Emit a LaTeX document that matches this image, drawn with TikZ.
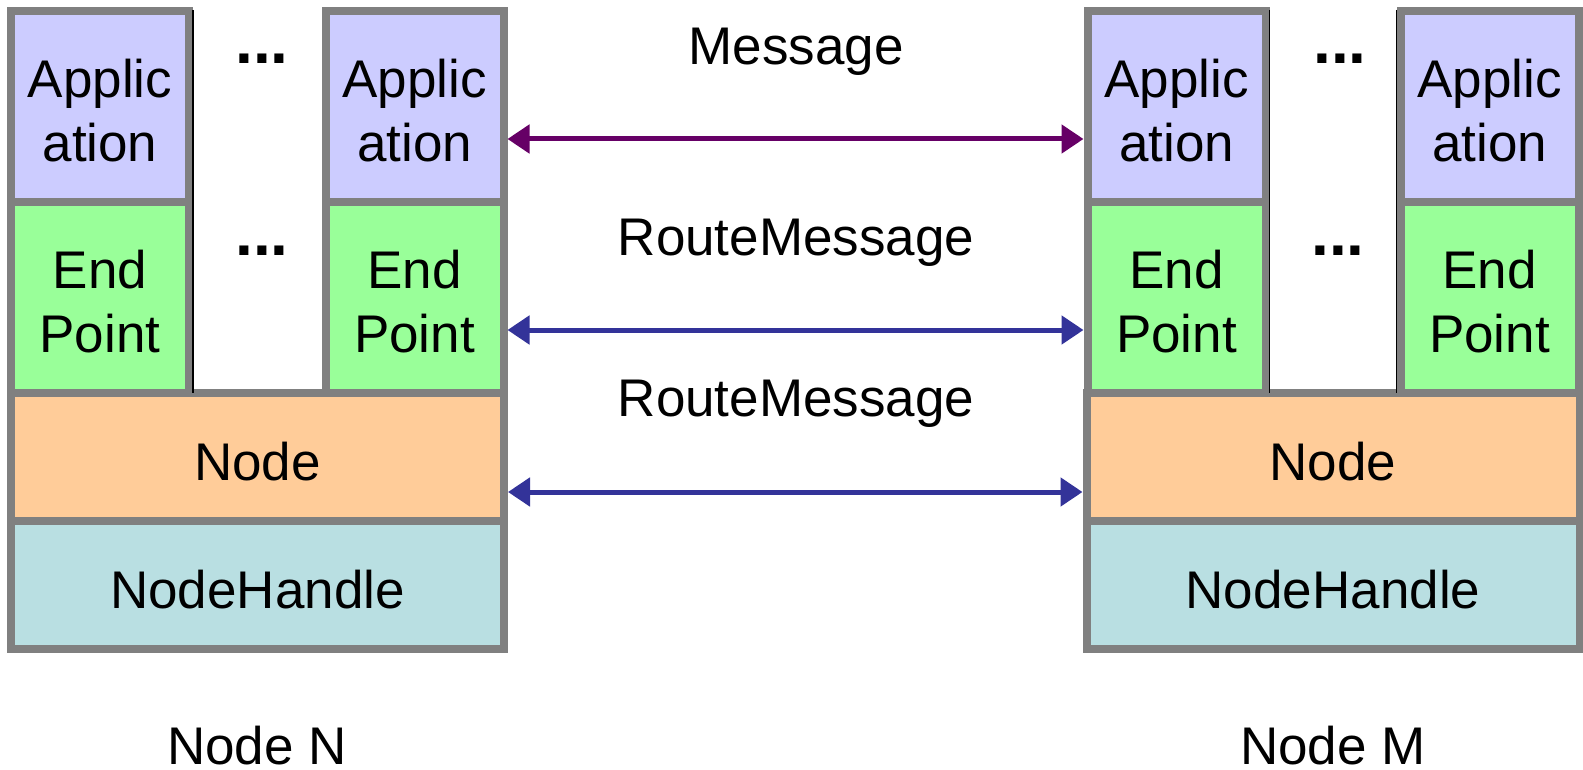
\documentclass[tikz,border=0pt]{standalone}
\usepackage{fontspec}
\setmainfont{Liberation Sans}
\usetikzlibrary{arrows.meta}
\definecolor{appc}{HTML}{CCCCFF}
\definecolor{epc}{HTML}{99FF99}
\definecolor{nodec}{HTML}{FFCC99}
\definecolor{nhc}{HTML}{B9DFE2}
\definecolor{bord}{HTML}{808080}
\definecolor{msgc}{HTML}{660066}
\definecolor{rtc}{HTML}{333399}
\begin{document}
\begin{tikzpicture}[x=1pt,y=-1pt,
  box/.style={draw=bord,line width=8pt,inner sep=0pt,align=center,
    font=\fontsize{53}{64}\selectfont},
  smallbox/.style={box,minimum width=178pt,minimum height=191pt,text height=110pt,text depth=0pt},
  widebox/.style={box,minimum width=493pt,minimum height=128pt,text height=46pt,text depth=0pt},
  appbox/.style={smallbox,fill=appc},
  epbox/.style={smallbox,fill=epc},
  nodebox/.style={widebox,fill=nodec},
  nhbox/.style={widebox,fill=nhc},
  lbl/.style={font=\fontsize{53}{64}\selectfont,anchor=base,inner sep=0pt},
  dots/.style={font=\fontsize{64}{70}\selectfont\bfseries,inner sep=0pt,anchor=base},
  biarrow/.style={line width=5pt,{Triangle[length=22pt,width=28pt]}-{Triangle[length=22pt,width=28pt]}},
  seam/.style={black,line width=1.5pt,shorten <=3pt,shorten >=4pt}
]
\useasboundingbox (0,0) rectangle (1583,770);

% Node N
\node[appbox] (appN1) at (100,106.5) {Applic\\ation};
\node[appbox] (appN2) at (414.5,106.5) {Applic\\ation};
\node[epbox] (epN1) at (100,297.5) {End\\Point};
\node[epbox] (epN2) at (414.5,297.5) {End\\Point};
\node[nodebox] (nodeN) at (257.5,457) {Node};
\node[nhbox] (nhN) at (257.5,585) {NodeHandle};
\draw[seam] (appN1.north east) -- (epN1.south east);
\node[dots] (dN1) at (262,64) {...};
\node[dots] (dN2) at (262,255) {...};

% Node M
\node[appbox] (appM1) at (1176.5,106.5) {Applic\\ation};
\node[appbox] (appM2) at (1489.5,106.5) {Applic\\ation};
\node[epbox] (epM1) at (1176.5,297.5) {End\\Point};
\node[epbox] (epM2) at (1489.5,297.5) {End\\Point};
\node[nodebox] (nodeM) at (1333,457) {Node};
\node[nhbox] (nhM) at (1333,585) {NodeHandle};
\draw[seam] (appM1.north east) -- (epM1.south east);
\draw[seam] (appM2.north west) -- (epM2.south west);
\node[dots] (dM1) at (1340,64) {...};
\node[dots] (dM2) at (1338,255) {...};

% connectors
\draw[biarrow,msgc] ([yshift=-32.5pt]appN2.east) -- ([yshift=-32.5pt]appM1.west);
\draw[biarrow,rtc] ([yshift=-32.5pt]epN2.east) -- ([yshift=-32.5pt]epM1.west);
\draw[biarrow,rtc] ([yshift=-35pt]nodeN.east) -- ([yshift=-35pt]nodeM.west);

% labels
\node[lbl] (lmsg) at (796,65) {Message};
\node[lbl] (lrt1) at (796,255) {RouteMessage};
\node[lbl] (lrt2) at (796,416) {RouteMessage};
\node[lbl] (lN) at (257,764) {Node N};
\node[lbl] (lM) at (1333,764) {Node M};
\end{tikzpicture}
\end{document}
